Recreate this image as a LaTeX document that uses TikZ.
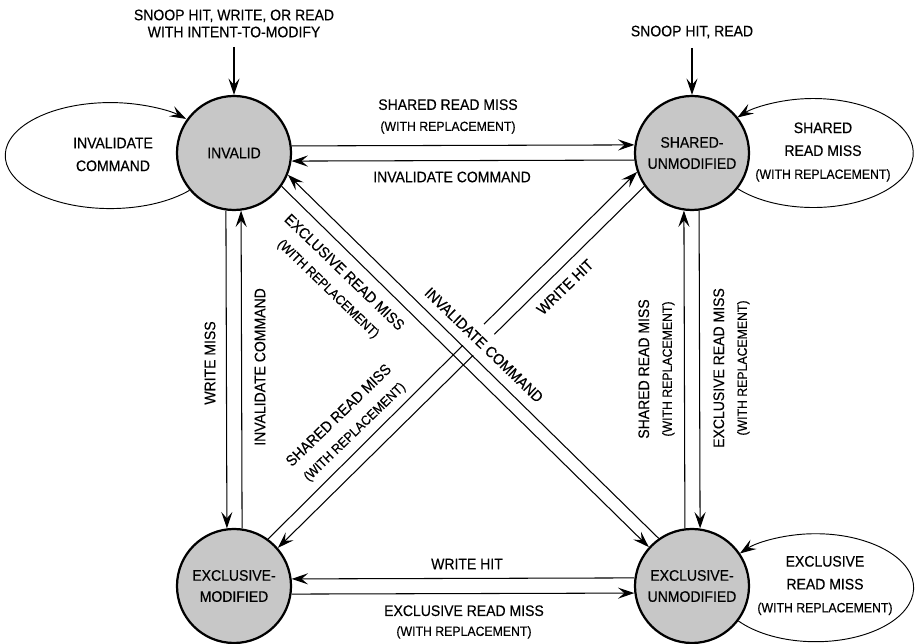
\documentclass[tikz,border=0pt]{standalone}
\usepackage{fontspec}
\setmainfont{Liberation Sans}[FakeStretch=0.92,FakeBold=0.4]
\usetikzlibrary{arrows.meta}
\newcommand{\withrepl}{{\fontsize{11.4}{12}\selectfont (WITH REPLACEMENT)}}

\begin{document}
\begin{tikzpicture}[x=0.03cm,y=0.03cm,font=\fontsize{13}{18}\selectfont,
  stnode/.style={circle,draw,line width=1.9pt,fill=black!22,minimum size=3.42cm,inner sep=0pt,align=center,font=\fontsize{13}{18}\selectfont},
  trans/.style={line width=0.9pt,-{Stealth[length=14pt,width=9.5pt,inset=5.5pt]}},
  selfloop/.style={trans,line width=0.8pt},
  txt/.style={align=center,inner sep=1pt}]
\useasboundingbox (0,0) rectangle (915,644);
\node[stnode] (I) at (234,491) {INVALID};
\node[stnode] (SU) at (692,491) {SHARED-\\UNMODIFIED};
\node[stnode] (EM) at (234,58) {EXCLUSIVE-\\MODIFIED};
\node[stnode] (EU) at (692,58) {EXCLUSIVE-\\UNMODIFIED};
% self loops
\draw[selfloop] (I.220.7) arc[start angle=-41,end angle=-316.3,x radius=105,y radius=53];
\draw[selfloop] (SU.322.2) arc[start angle=221,end angle=499.4,x radius=100,y radius=54.5];
\draw[selfloop] (EU.323.3) arc[start angle=218,end angle=500.6,x radius=98,y radius=54];
\node[txt,font=\fontsize{13}{19.5}\selectfont] (Iloop) at (113,489.5) {INVALIDATE\\COMMAND};
\node[txt,font=\fontsize{13}{19.5}\selectfont] (SUloop) at (823,492) {SHARED\\READ MISS\\\withrepl};
\node[txt,font=\fontsize{13}{19.5}\selectfont] (EUloop) at (825,58.5) {EXCLUSIVE\\READ MISS\\\withrepl};
% snoop inputs
\node[txt,inner sep=3pt,font=\fontsize{13}{14.5}\selectfont] (snoopI) at (234,620.5) {SNOOP HIT, WRITE, OR READ\\WITH INTENT-TO-MODIFY};
\node[txt,inner sep=3pt] (snoopSU) at (692,612) {SNOOP HIT, READ};
\draw[trans,shorten <=5pt] (snoopI) -- (I);
\draw[trans,shorten <=5pt] (snoopSU) -- (SU);
% top pair
\draw[trans] (I.7.6) -- (SU.172.4);
\draw[trans] (SU.187.6) -- (I.352.4);
\node[txt] (t1) at (448,527.5) {SHARED READ MISS\\\withrepl};
\node[txt] (t2) at (452,467) {INVALIDATE COMMAND};
% left pair
\draw[trans] (I.262.4) -- (EM.97.6);
\draw[trans] (EM.82.4) -- (I.277.6);
\node[txt,rotate=90] (l1) at (210,281) {WRITE MISS};
\node[txt,rotate=90] (l2) at (260,277) {INVALIDATE COMMAND};
% right pair
\draw[trans] (EU.97.6) -- (SU.262.4);
\draw[trans] (SU.277.6) -- (EU.82.4);
\node[txt,rotate=90,font=\fontsize{13}{19.5}\selectfont] (r1) at (656.5,275) {SHARED READ MISS\\\withrepl};
\node[txt,rotate=90,font=\fontsize{13}{19.5}\selectfont] (r2) at (731.5,276) {EXCLUSIVE READ MISS\\\withrepl};
% bottom pair
\draw[trans] (EU.172.4) -- (EM.7.6);
\draw[trans] (EM.352.4) -- (EU.187.6);
\node[txt] (b1) at (467,80) {WRITE HIT};
\node[txt,font=\fontsize{13}{17}\selectfont] (b2) at (464,22) {EXCLUSIVE READ MISS\\\withrepl};
% diagonals
\draw[trans] (EM.54.6) -- (SU.199.3);
\draw[trans] (SU.215.5) -- (EM.41.1);
\node[txt,rotate=-44,fill=white,inner sep=8pt] (d2) at (484,299) {INVALIDATE COMMAND};
\draw[trans] (I.325) -- (EU.138.5);
\draw[trans] (EU.125) -- (I.338);
\node[txt,rotate=-44,font=\fontsize{13}{19}\selectfont] (d1) at (336,363) {EXCLUSIVE READ MISS\\\withrepl};
\node[txt,rotate=44] (d3) at (565,357) {WRITE HIT};
\node[txt,rotate=44,font=\fontsize{13}{19}\selectfont] (d4) at (347,220) {SHARED READ MISS\\\withrepl};
\end{tikzpicture}
\end{document}
